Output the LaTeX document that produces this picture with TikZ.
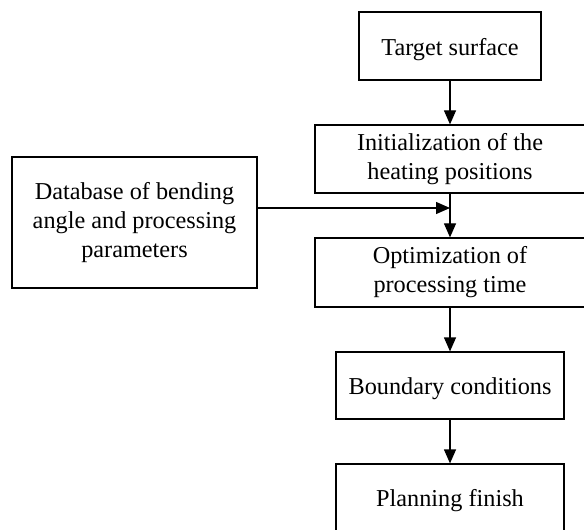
\documentclass[tikz,border=0pt]{standalone}
\usepackage{fontspec}
\setmainfont{Liberation Serif}
\usetikzlibrary{arrows.meta}

\tikzset{every picture/.style={line width=0.9pt}}
\tikzset{
  stage/.style={draw, align=center, inner sep=0.75pt, font=\fontsize{18.2}{21.75}\selectfont},
  oneline/.style={text height=14pt, text depth=0pt},
  flow/.style={-{Triangle[length=10.5pt,width=9pt]}}
}

\begin{document}
\begin{tikzpicture}[x=0.75pt,y=0.75pt,yscale=-1,xscale=1]
\useasboundingbox (0,0) rectangle (584,530);
\clip (0,0) rectangle (584,530);

%Shape: Rectangle [target]
\node [stage, oneline, minimum width=136.5pt, minimum height=51pt] (target) at (450,46) {Target surface};
%Shape: Rectangle [init]
\node [stage, minimum width=202.5pt, minimum height=51pt] (init) at (450,159) {Initialization of the\\heating positions};
%Shape: Rectangle [db]
\node [stage, minimum width=183.75pt, minimum height=98.25pt] (db) at (134.5,222.5) {Database of bending\\angle and processing\\parameters};
%Shape: Rectangle [optim]
\node [stage, minimum width=202.5pt, minimum height=51.75pt] (optim) at (450,272.5) {Optimization of\\processing time};
%Shape: Rectangle [bound]
\node [stage, oneline, minimum width=171pt, minimum height=50.25pt] (bound) at (450,385.5) {Boundary conditions};
%Shape: Rectangle [plan]
\node [stage, oneline, minimum width=171pt, minimum height=50.25pt] (plan) at (450,497.5) {Planning finish};

%Straight Lines
\coordinate (join) at (450,208);
\draw [flow] (target) -- (init);
\draw [flow] (init) -- (optim);
\draw [flow] (db.east |- join) -- (join);
\draw [flow] (optim) -- (bound);
\draw [flow] (bound) -- (plan);

\end{tikzpicture}
\end{document}
